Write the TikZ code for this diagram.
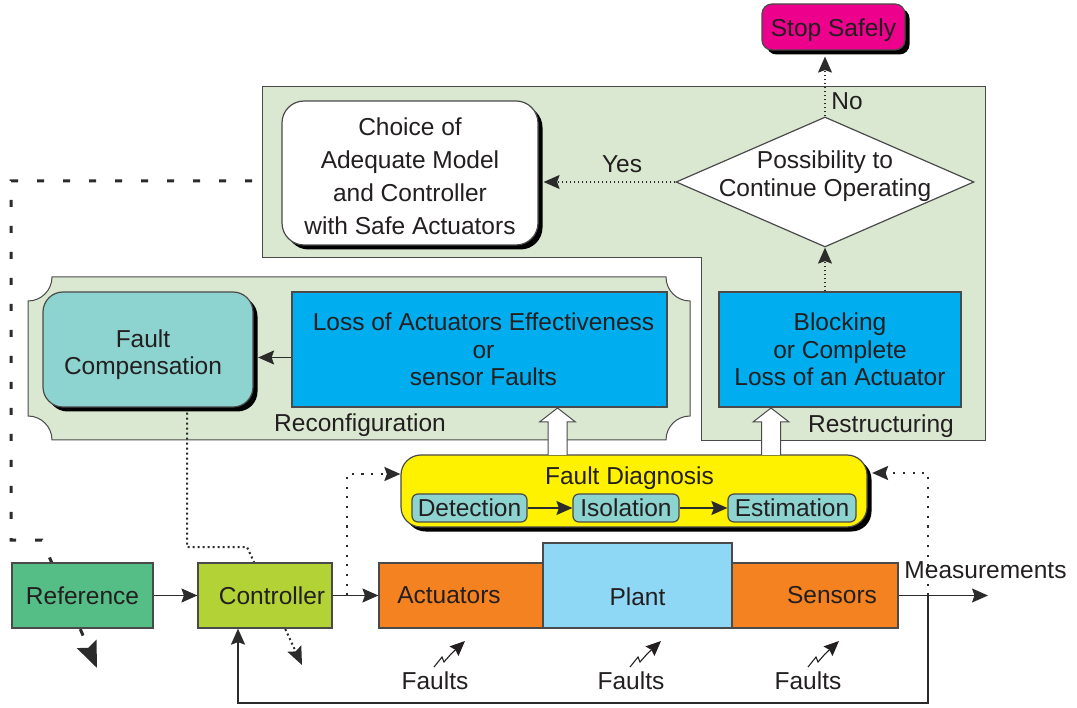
\documentclass[tikz,border=0pt]{standalone}
\usepackage{fontspec}
\setmainfont{Liberation Sans}
\usetikzlibrary{arrows.meta,shapes.geometric,calc,shadows}

\definecolor{ink}{HTML}{231F20}
\definecolor{edge}{HTML}{4A4A4A}
\definecolor{wire}{HTML}{2B2B2B}
\definecolor{panel}{HTML}{DAE8D1}
\definecolor{stopmagenta}{HTML}{EC008C}
\definecolor{cyanbox}{HTML}{00AEEF}
\definecolor{tealbox}{HTML}{8DD3CF}
\definecolor{diagyellow}{HTML}{FFF200}
\definecolor{refgreen}{HTML}{55BE87}
\definecolor{ctrlgreen}{HTML}{B2D235}
\definecolor{orangebox}{HTML}{F58220}
\definecolor{plantblue}{HTML}{8ED8F6}

\tikzset{
  box/.style={draw=edge, line width=1.2pt, inner sep=0pt, align=center},
  rbox/.style={box, rounded corners=#1,
    general shadow={fill=black, shadow xshift=4.5pt, shadow yshift=-4.5pt}},
  sbox/.style={box, fill=tealbox, rounded corners=6pt, minimum height=28pt},
  panelshape/.style={fill=panel, draw=edge, line width=1pt},
  arrowtip/.style={-{Stealth[length=16pt,width=14pt,inset=2.5pt]}},
  wireline/.style={draw=wire, line width=1.5pt, arrowtip},
  dotwire/.style={draw=wire, line width=2.2pt, dash pattern=on 2.2pt off 7.5pt, arrowtip},
  finedot/.style={draw=wire, line width=1.3pt, dash pattern=on 1.3pt off 2.7pt, arrowtip},
  densedot/.style={draw=wire, line width=2pt, dash pattern=on 2pt off 3pt,
    -{Stealth[length=18pt,width=15pt,inset=3pt]}},
  bigdash/.style={draw=wire, line width=3pt, dash pattern=on 7pt off 19pt,
    -{Stealth[length=26pt,width=21pt,inset=4pt]}},
  faultbolt/.pic={\draw[draw=ink, line width=1.1pt, -{Stealth[length=15pt,width=13pt,inset=2pt]}]
    (0,0) -- (8,-10) -- (10,-5) -- (17,-13) -- (31,-26);},
  hollowup/.pic={\filldraw[fill=white, draw=edge, line width=1pt]
    (-9.5,0) -- (-9.5,-33) -- (-18,-33) -- (0,-47) -- (18,-33) -- (9.5,-33) -- (9.5,0);}
}

\begin{document}
\begin{tikzpicture}[x=1pt,y=-1pt, font=\fontsize{24.5pt}{27.5pt}\selectfont, text=ink]
\useasboundingbox (0,0) rectangle (1077,708);

% restructuring and reconfiguration panels
\path[panelshape] (262,87) -- (985,87) -- (985,441) -- (701,441) -- (701,258) -- (262,258) -- cycle;
\path[panelshape] (52,277) -- (666,277) arc[start angle=180,end angle=90,radius=24]
  -- (690,416) arc[start angle=270,end angle=180,radius=24]
  -- (52,440) arc[start angle=360,end angle=270,radius=24]
  -- (28,301) arc[start angle=90,end angle=0,radius=24] -- cycle;
\node (restrlabel) at (881,426) {Restructuring};
\node (reconflabel) at (360,425.5) {Reconfiguration};

% upper blocks
\node[rbox=10pt, fill=stopmagenta, minimum width=143pt, minimum height=46pt,
      label={[yshift=-3pt]center:Stop Safely}] (stop) at (833.5,27) {};
\node[rbox=22pt, fill=white, minimum width=256pt, minimum height=144pt,
      label={[align=center, yshift=-3pt, font=\fontsize{24.5pt}{33pt}\selectfont]center:Choice of\\Adequate Model\\and Controller\\with Safe Actuators}]
  (choice) at (410,173) {};
\node[diamond, draw=edge, line width=1.2pt, fill=white, inner sep=0pt,
      minimum width=298pt, minimum height=130pt] (dec) at (825,182) {};
\node[align=center] (dectext) at (825,176) {Possibility to\\Continue Operating};
\node[box, fill=cyanbox, minimum width=242pt, minimum height=115pt] (blk) at (840,349.5)
  {Blocking\\or Complete\\Loss of an Actuator};
\node[box, fill=cyanbox, minimum width=375pt, minimum height=115pt,
      label={[align=center, xshift=4pt]center:Loss of Actuators Effectiveness\\or\\sensor Faults}]
  (loss) at (479.5,349.5) {};
\node[rbox=20pt, fill=tealbox, minimum width=210pt, minimum height=115pt,
      label={[align=center, xshift=-5pt, yshift=-5pt]center:Fault\\Compensation}]
  (fc) at (148,349.5) {};

% decision links
\draw[finedot] (dec.west) -- ($(dec.west -| choice.east)+(5,0)$);
\node (yes) at (622,164.5) {Yes};
\draw[finedot] (dec.north) -- ($(dec.north |- stop.south)+(0,6)$);
\node (no) at (847,101.5) {No};
\draw[finedot] (dec.south |- blk.north) -- (dec.south);
\draw[wireline] ([yshift=-8pt]loss.west) -- ([xshift=4.5pt,yshift=-8pt]fc.east);

% fault diagnosis block
\node[rbox=20pt, fill=diagyellow, minimum width=466pt, minimum height=72pt] (fd) at (634,491) {};
\node (fdtitle) at (629.5,478.5) {Fault Diagnosis};
\node[sbox, minimum width=115pt] (det) at (469.5,508) {Detection};
\node[sbox, minimum width=106pt] (iso) at (626,508) {Isolation};
\node[sbox, minimum width=128pt] (est) at (792,508) {Estimation};
\draw[wireline, line width=1.2pt] (det) -- (iso);
\draw[wireline, line width=1.2pt] (iso) -- (est);
\pic (up1) at (557.5,455) {hollowup};
\pic (up2) at (771,455) {hollowup};

% supervisory paths running behind the loop blocks
\coordinate (dashstart) at (252,181);
\coordinate (dashc1) at (11,181);
\coordinate (dashc2) at (11,540);
\coordinate (dashc3) at (42,540);
\coordinate (dashend) at (97,668);
\draw[bigdash] (dashstart) -- (dashc1) -- (dashc2) -- (dashc3) -- (dashend);

\coordinate (fcout) at ($(fc.south)+(39,5)$);
\coordinate (fcc1) at (187,547);
\coordinate (fcc2) at (247,547);
\coordinate (fcend) at (302,665);
\draw[densedot] (fcout) -- (fcc1) -- (fcc2) -- (fcend);

% control loop
\node[box, fill=refgreen, minimum width=141pt, minimum height=65pt] (ref) at (82.5,595.5) {Reference};
\node[box, fill=ctrlgreen, minimum width=134pt, minimum height=65pt,
      label={[xshift=7pt]center:Controller}] (ctrl) at (265,595.5) {};
\node[box, fill=orangebox, minimum width=164pt, minimum height=65pt,
      label={[xshift=-12pt]center:Actuators}] (act) at (461,595.5) {};
\node[box, fill=plantblue, minimum width=189pt, minimum height=85pt,
      label={[yshift=-11.5pt]center:Plant}] (plant) at (637.5,585.5) {};
\node[box, fill=orangebox, minimum width=166pt, minimum height=65pt,
      label={[xshift=17pt]center:Sensors}] (sens) at (815,595.5) {};

\draw[wireline] (ref) -- (ctrl);
\draw[wireline] (ctrl) -- (act);
\coordinate (meas) at (988,595.5);
\draw[wireline] (sens.east) -- (meas);
\node (measlabel) at (985.5,570) {Measurements};

\coordinate (tap) at (928,595.5);
\coordinate (fbbottom) at (238,703);
\draw[wireline, line width=2pt] (tap) |- (fbbottom) -- (ctrl.south -| fbbottom);
\draw[dotwire] (tap) |- ([xshift=4.5pt,yshift=18pt]fd.east);
\coordinate (tapc) at (347,595.5);
\draw[dotwire] (tapc) |- ([yshift=17pt]fd.west);

% fault inputs
\pic (bolt1) at (434,667) {faultbolt};
\pic (bolt2) at (630,667) {faultbolt};
\pic (bolt3) at (808,667) {faultbolt};
\node (faults1) at (435,681) {Faults};
\node (faults2) at (631,681) {Faults};
\node (faults3) at (808,681) {Faults};
\end{tikzpicture}
\end{document}
